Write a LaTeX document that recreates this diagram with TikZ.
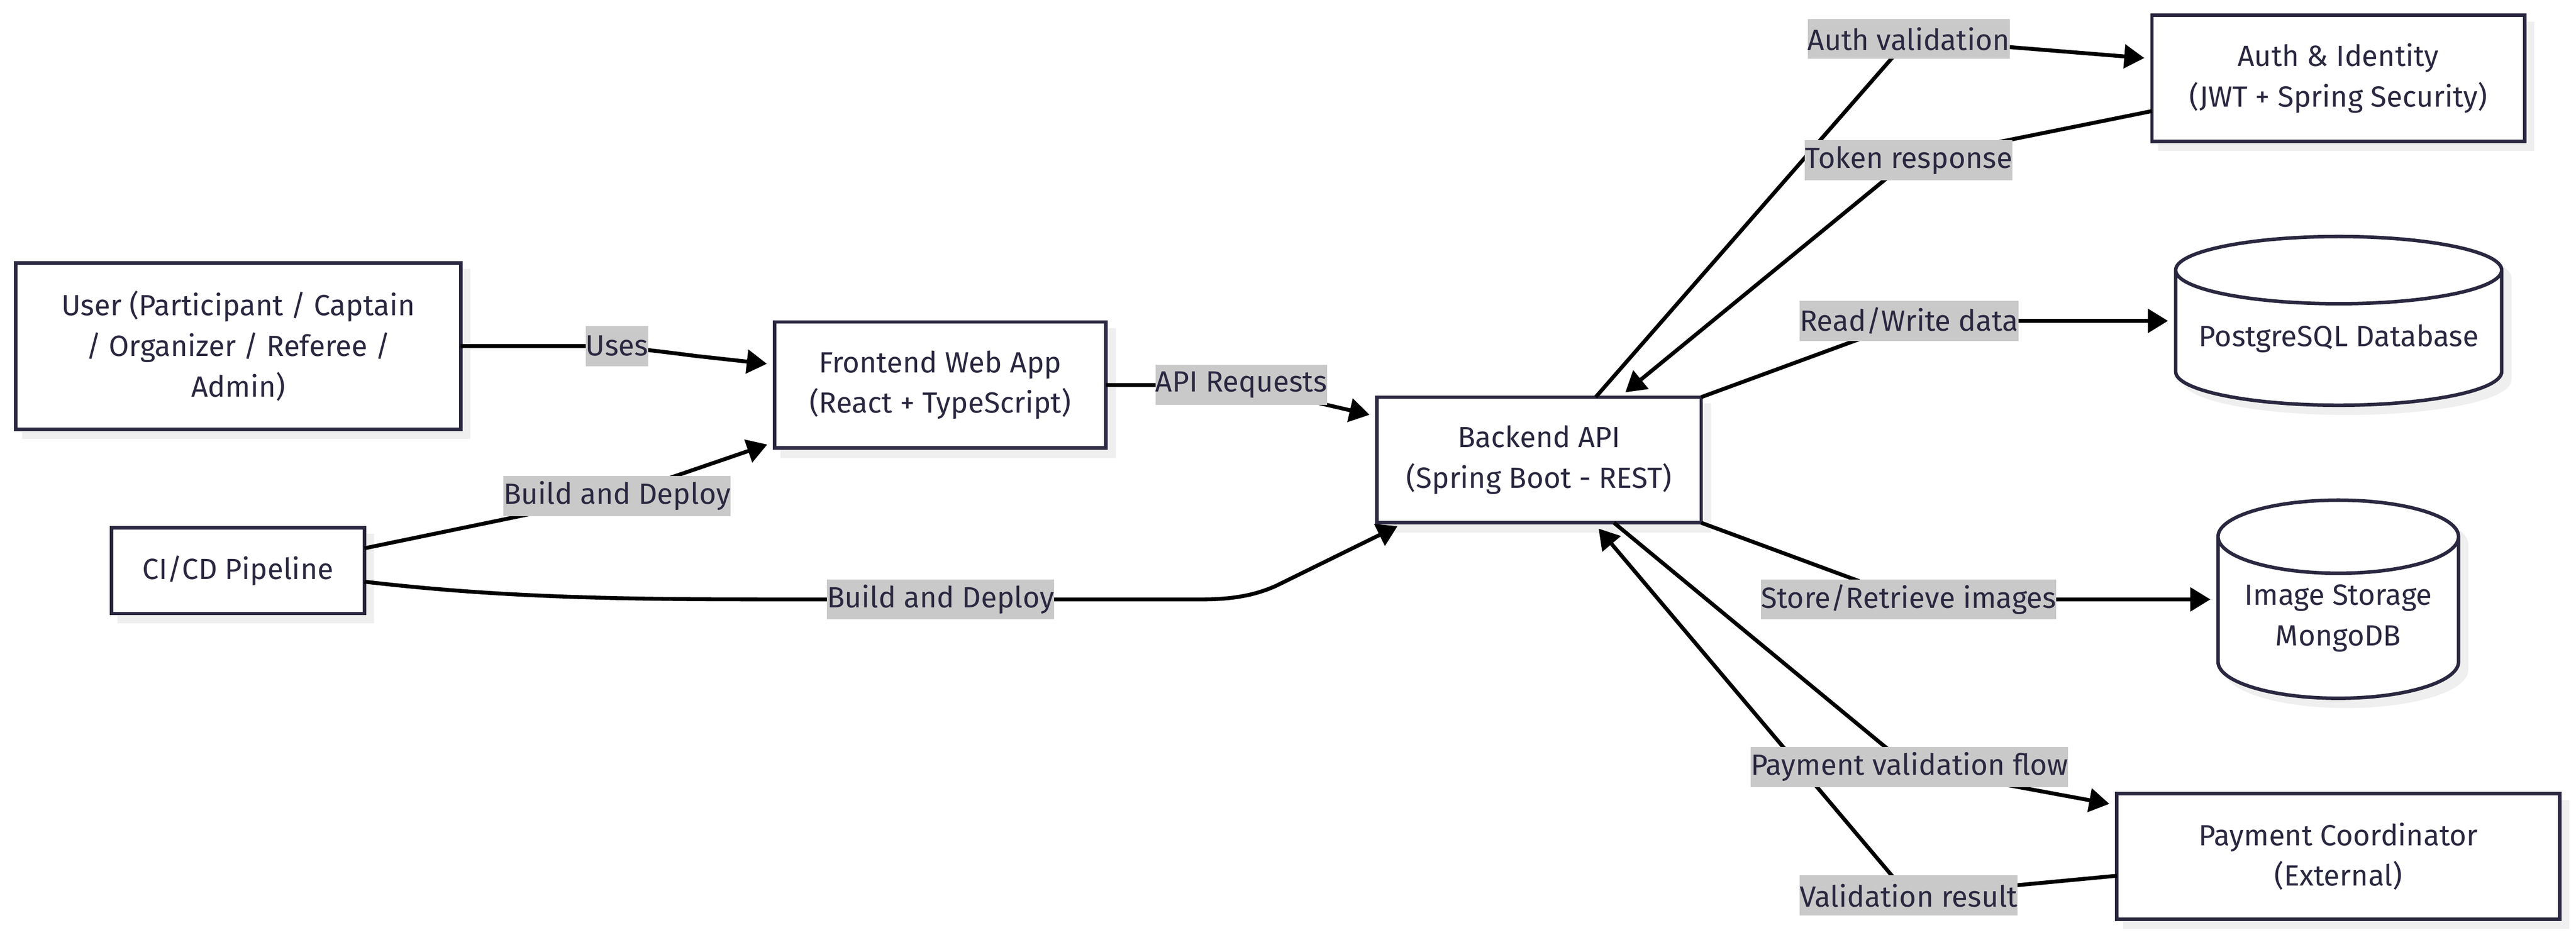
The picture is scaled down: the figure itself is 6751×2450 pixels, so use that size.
\documentclass[tikz,border=0pt]{standalone}
\usepackage{fontspec}
\setmainfont{Fira Sans}
\usetikzlibrary{arrows.meta, shapes.geometric, shadows}
\definecolor{inkblue}{HTML}{2A2840}
\definecolor{lblgray}{HTML}{C9C9C9}
\definecolor{shadowgray}{HTML}{EFEFEF}
\pgfdeclarelayer{labels}
\pgfsetlayers{main,labels}
\tikzset{
    every node/.style={text=inkblue, font=\fontsize{21.8}{30.2}\selectfont},
    softshadow/.style={drop shadow={shadow xshift=0.21cm, shadow yshift=-0.21cm, opacity=1, fill=shadowgray, draw=shadowgray}},
    svcbox/.style={draw=inkblue, line width=2.6pt, fill=white, align=center, outer sep=0pt, inner sep=0pt, softshadow},
    dbcyl/.style={svcbox, shape=cylinder, shape border rotate=90, anchor=shape center},
    flowlbl/.style={fill=lblgray, inner xsep=0pt, inner ysep=0pt, minimum height=1.05cm, outer sep=0pt},
    flow/.style={draw=black, line width=2.9pt, -{Triangle[length=15pt,width=17.5pt]}, shorten >=0.2cm},
}
\begin{document}
\begin{tikzpicture}[x=0.01cm, y=-0.01cm]
\useasboundingbox (0,0) rectangle (6751,2450);
% === Left side: clients ===
\node[svcbox, minimum width=11.65cm, minimum height=4.36cm] (user) at (624.5,907) {User (Participant / Captain\\/ Organizer / Referee /\\Admin)};
\node[svcbox, minimum width=6.63cm, minimum height=2.25cm] (cicd) at (623.5,1495.5) {CI/CD Pipeline};
\node[svcbox, minimum width=8.68cm, minimum height=3.30cm] (frontend) at (2464,1009) {Frontend Web App\\(React + TypeScript)};
\node[svcbox, minimum width=8.49cm, minimum height=3.29cm] (backend) at (4033.5,1205.5) {Backend API\\(Spring Boot - REST)};
% === Right side: services ===
\node[svcbox, minimum width=9.76cm, minimum height=3.30cm] (auth) at (6128,205) {Auth \& Identity\\(JWT + Spring Security)};
\node[dbcyl, minimum width=8.54cm, minimum height=4.42cm, aspect=0.24] (postgres) at (6129,841) {PostgreSQL Database};
\node[dbcyl, minimum width=6.30cm, minimum height=5.19cm, aspect=0.39] (mongo) at (6128,1570.5) {Image Storage\\MongoDB};
\node[svcbox, minimum width=11.60cm, minimum height=3.29cm] (payment) at (6128,2244.5) {Payment Coordinator\\(External)};
% === Edge labels ===
\begin{pgfonlayer}{labels}
    \node[flowlbl] (useslbl) at (1617,907) {Uses};
    \node[flowlbl] (buildfe) at (1617,1300) {Build and Deploy};
    \node[flowlbl] (buildbe) at (2465,1571) {Build and Deploy};
    \node[flowlbl] (apilbl) at (3253,1009) {API Requests};
    \node[flowlbl] (authlbl) at (5002,102) {Auth validation};
    \node[flowlbl] (tokenlbl) at (5002,420) {Token response};
    \node[flowlbl] (rwlbl) at (5003,841) {Read/Write data};
    \node[flowlbl] (storelbl) at (5002,1571) {Store/Retrieve images};
    \node[flowlbl] (paylbl) at (5004,2010) {Payment validation flow};
    \node[flowlbl] (resultlbl) at (5002,2347) {Validation result};
\end{pgfonlayer}
% === Connectors ===
\draw[flow] (user.east) -- (useslbl.west) .. controls (1620,907) and (1700,917) .. (1824,933) -- (frontend.173.2);
\draw[flow] (cicd.10.9) -- (buildfe.center) -- (frontend.199);
\draw[flow] (cicd.355.95) .. controls (1350,1571) and (1700,1571) .. (2100,1571) -- (buildbe.center) -- (3150,1571) .. controls (3230,1571) and (3290,1560) .. (3345,1535) -- (backend.205.6);
\draw[flow] (frontend.east) -- (apilbl.center) -- (backend.165.9);
\draw[flow] (backend.48.3) -- (authlbl.center) -- (auth.174.6);
\draw[flow] (auth.190.7) -- (tokenlbl.center) -- (backend.38.5);
\draw[flow] (backend.north east) -- (rwlbl.center) -- (rwlbl.center -| postgres.west);
\draw[flow] (backend.south east) -- (storelbl.center) -- (storelbl.center -| mongo.west);
\draw[flow] (backend.320.1) -- (paylbl.center) -- (payment.167.9);
\draw[flow] (payment.185) -- (resultlbl.center) -- (backend.311.5);
\end{tikzpicture}
\end{document}
